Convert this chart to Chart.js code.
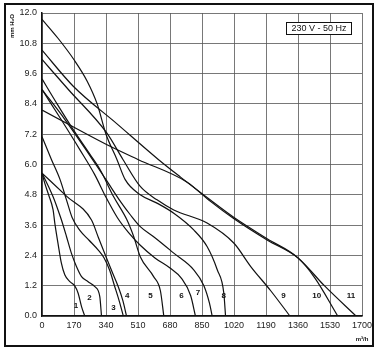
<!DOCTYPE html>
<html>
<head>
<meta charset="utf-8">
<script src="https://cdn.jsdelivr.net/npm/chart.js@4.4.0/dist/chart.umd.min.js"></script>
<style>
  html, body { margin: 0; padding: 0; background: #fff; }
  #wrap { width: 380px; height: 354px; }
</style>
</head>
<body>
<div id="wrap"><canvas id="fanChart" width="380" height="354"></canvas></div>
<script>
// axis ticks
const xTicks = [0, 170, 340, 510, 680, 850, 1020, 1190, 1360, 1530, 1700];
const yTicks = [0, 1.2, 2.4, 3.6, 4.8, 6.0, 7.2, 8.4, 9.6, 10.8, 12.0];

// curve values (m3/h, mm H2O)
const flow1 = [0, 15, 35, 59, 68, 85, 103, 121, 148, 174, 192, 210, 227];
const pres1 = [5.66, 5.25, 4.8, 4.2, 3.68, 2.88, 2.09, 1.63, 1.36, 1.19, 0.9, 0.37, 0];
const flow2 = [0, 30, 60, 85, 103, 130, 156, 183, 210, 245, 281, 307, 316];
const pres2 = [5.66, 5.2, 4.7, 4.2, 3.81, 3.15, 2.49, 1.96, 1.56, 1.36, 1.16, 0.77, 0];
const flow3 = [0, 50, 96, 130, 160, 200, 250, 300, 330, 360, 385, 410, 432];
const pres3 = [7.1, 6.2, 5.4, 4.6, 3.9, 3.4, 3.0, 2.6, 2.3, 1.8, 1.2, 0.6, 0];
const flow4 = [0, 130, 263, 300, 340, 375, 405, 430, 449];
const pres4 = [5.66, 4.75, 3.8, 3.1, 2.35, 1.7, 1.16, 0.6, 0];
const flow5 = [0, 80, 166, 255, 309, 380, 451, 487, 522, 593, 629, 647];
const pres5 = [9.39, 8.4, 7.38, 6.4, 5.79, 4.73, 3.81, 3.15, 2.35, 1.56, 1.0, 0];
const flow6 = [0, 100, 200, 280, 340, 400, 460, 522, 600, 680, 740, 790, 815];
const pres6 = [8.97, 7.8, 6.6, 5.6, 4.7, 3.9, 3.3, 2.8, 2.3, 1.9, 1.5, 0.8, 0];
const flow7 = [0, 120, 250, 340, 420, 470, 522, 600, 700, 806, 860, 890, 904];
const pres7 = [8.97, 7.8, 6.4, 5.4, 4.5, 4.0, 3.54, 3.1, 2.49, 1.83, 1.2, 0.5, 0];
const flow8 = [0, 85, 170, 240, 293, 340, 398, 442, 522, 611, 700, 806, 877, 931, 966, 975];
const pres8 = [11.75, 11.0, 10.15, 9.3, 8.4, 7.2, 6.2, 5.4, 4.8, 4.47, 4.07, 3.41, 2.75, 1.83, 0.9, 0];
const flow9 = [0, 140, 344, 430, 522, 611, 700, 877, 1020, 1109, 1215, 1317];
const pres9 = [10.16, 8.97, 7.25, 6.2, 5.13, 4.6, 4.2, 3.68, 2.88, 1.96, 1.0, 0];
const flow10 = [0, 166, 400, 618, 736, 893, 1020, 1198, 1360, 1450, 1571];
const pres10 = [10.53, 9.1, 7.6, 6.2, 5.5, 4.6, 3.9, 3.05, 2.3, 1.5, 0];
const flow11 = [0, 362, 512, 771, 893, 1020, 1198, 1360, 1500, 1668];
const pres11 = [8.16, 6.72, 6.19, 5.3, 4.55, 3.85, 3.0, 2.3, 1.2, 0];

const curveNames = ['1', '2', '3', '4', '5', '6', '7', '8', '9', '10', '11'];
const labelFlow = [181, 252, 380, 453, 576, 741, 828, 966, 1283, 1459, 1642];
const labelPres = [0.4, 0.73, 0.33, 0.79, 0.79, 0.79, 0.92, 0.79, 0.79, 0.79, 0.79];

const flows = [flow1, flow2, flow3, flow4, flow5, flow6, flow7, flow8, flow9, flow10, flow11];
const pressures = [pres1, pres2, pres3, pres4, pres5, pres6, pres7, pres8, pres9, pres10, pres11];

const FONT = 'Liberation Sans, Arial, sans-serif';

const datasets = flows.map((f, i) => ({
  label: curveNames[i],
  data: f.map((x, j) => ({ x: x, y: pressures[i][j] })),
  showLine: true,
  borderColor: '#111',
  borderWidth: 1.2,
  pointRadius: 0,
  cubicInterpolationMode: 'monotone',
  fill: false
}));

const decor = {
  id: 'decor',
  beforeDraw(chart) {
    const c = chart.ctx;
    c.save();
    c.fillStyle = '#fff';
    c.fillRect(0, 0, chart.width, chart.height);
    c.restore();
  },
  afterDraw(chart) {
    const c = chart.ctx;
    const xs = chart.scales.x, ys = chart.scales.y;
    c.save();
    // outer frame
    c.strokeStyle = '#111';
    c.lineWidth = 2;
    c.strokeRect(5, 4, 368, 342);
    // voltage box
    c.fillStyle = '#fff';
    c.fillRect(286, 22, 65, 13);
    c.lineWidth = 1;
    c.strokeRect(286.5, 22.5, 65, 12);
    c.fillStyle = '#111';
    c.font = '9px ' + FONT;
    c.textAlign = 'center';
    c.textBaseline = 'middle';
    c.fillText('230 V - 50 Hz', 319, 29);
    // curve numbers
    c.font = 'bold 8px ' + FONT;
    curveNames.forEach((n, i) => {
      c.fillText(n, xs.getPixelForValue(labelFlow[i]), ys.getPixelForValue(labelPres[i]));
    });
    // axis titles
    c.font = 'bold 6px ' + FONT;
    c.fillText('m\u00b3/h', 362, 339);
    c.translate(12, 26);
    c.rotate(-Math.PI / 2);
    c.fillText('mm H\u2082O', 0, 0);
    c.restore();
  }
};

new Chart(document.getElementById('fanChart'), {
  type: 'scatter',
  data: { datasets: datasets },
  options: {
    responsive: false,
    animation: false,
    devicePixelRatio: 1,
    layout: { padding: { left: 6, top: 13, right: 18, bottom: 10 } },
    plugins: { legend: { display: false }, tooltip: { enabled: false } },
    scales: {
      x: {
        type: 'linear', min: 0, max: 1700,
        afterBuildTicks: s => { s.ticks = xTicks.map(v => ({ value: v })); },
        afterFit: s => { s.height = 28; s.paddingLeft = 0; s.paddingRight = 0; },
        ticks: { color: '#222', font: { size: 9, family: FONT }, maxRotation: 0, padding: 4, callback: v => String(v) },
        grid: { color: '#555', lineWidth: 0.8, drawTicks: false },
        border: { color: '#111', width: 1.5 }
      },
      y: {
        type: 'linear', min: 0, max: 12,
        afterBuildTicks: s => { s.ticks = yTicks.map(v => ({ value: v })); },
        afterFit: s => { s.width = 36; s.paddingTop = 0; s.paddingBottom = 0; },
        ticks: { color: '#222', font: { size: 9, family: FONT }, padding: 5, callback: v => v.toFixed(1) },
        grid: { color: '#555', lineWidth: 0.8, drawTicks: false },
        border: { color: '#111', width: 1.5 }
      }
    }
  },
  plugins: [decor]
});
</script>
</body>
</html>
